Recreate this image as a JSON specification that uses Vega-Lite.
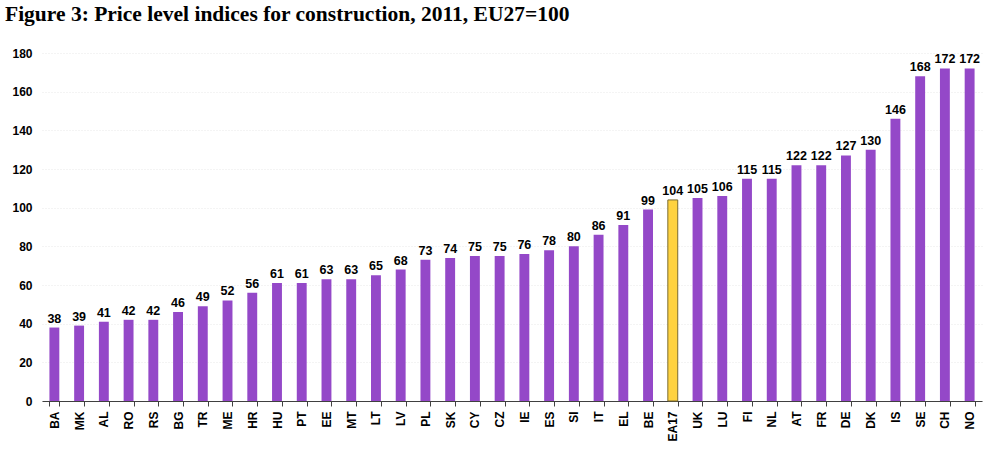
{
  "$schema": "https://vega.github.io/schema/vega-lite/v6.json",
  "width": 940,
  "height": 348,
  "autosize": {"type": "none"},
  "padding": {"left": 42, "top": 53, "right": 3, "bottom": 48},
  "background": "white",
  "view": {"stroke": null},
  "title": {
    "text": "Figure 3: Price level indices for construction, 2011, EU27=100",
    "anchor": "start",
    "frame": "group",
    "dx": -37,
    "offset": 22,
    "font": "Liberation Serif",
    "fontSize": 21.5,
    "fontWeight": "bold",
    "color": "#000000"
  },
  "data": {
    "values": [
      {"country": "BA", "value": 38},
      {"country": "MK", "value": 39},
      {"country": "AL", "value": 41},
      {"country": "RO", "value": 42},
      {"country": "RS", "value": 42},
      {"country": "BG", "value": 46},
      {"country": "TR", "value": 49},
      {"country": "ME", "value": 52},
      {"country": "HR", "value": 56},
      {"country": "HU", "value": 61},
      {"country": "PT", "value": 61},
      {"country": "EE", "value": 63},
      {"country": "MT", "value": 63},
      {"country": "LT", "value": 65},
      {"country": "LV", "value": 68},
      {"country": "PL", "value": 73},
      {"country": "SK", "value": 74},
      {"country": "CY", "value": 75},
      {"country": "CZ", "value": 75},
      {"country": "IE", "value": 76},
      {"country": "ES", "value": 78},
      {"country": "SI", "value": 80},
      {"country": "IT", "value": 86},
      {"country": "EL", "value": 91},
      {"country": "BE", "value": 99},
      {"country": "EA17", "value": 104},
      {"country": "UK", "value": 105},
      {"country": "LU", "value": 106},
      {"country": "FI", "value": 115},
      {"country": "NL", "value": 115},
      {"country": "AT", "value": 122},
      {"country": "FR", "value": 122},
      {"country": "DE", "value": 127},
      {"country": "DK", "value": 130},
      {"country": "IS", "value": 146},
      {"country": "SE", "value": 168},
      {"country": "CH", "value": 172},
      {"country": "NO", "value": 172}
    ]
  },
  "encoding": {
    "x": {
      "field": "country",
      "type": "nominal",
      "sort": null,
      "scale": {"paddingInner": 0.6, "paddingOuter": 0.3},
      "axis": {
        "title": null,
        "labelAngle": -90,
        "labelFont": "Liberation Sans",
        "labelFontSize": 12,
        "labelFontWeight": "bold",
        "labelColor": "#000000",
        "labelPadding": 5,
        "domainColor": "#404040",
        "tickColor": "#404040",
        "tickBand": "extent",
        "tickSize": 5,
        "grid": false
      }
    },
    "y": {
      "field": "value",
      "type": "quantitative",
      "scale": {"domain": [0, 180]},
      "axis": {
        "title": null,
        "values": [0, 20, 40, 60, 80, 100, 120, 140, 160, 180],
        "domain": false,
        "ticks": false,
        "labelFont": "Liberation Sans",
        "labelFontSize": 12,
        "labelFontWeight": "bold",
        "labelColor": "#000000",
        "labelPadding": 10,
        "grid": true,
        "gridColor": "#dcdcdc",
        "gridDash": [1, 2],
        "gridWidth": 0.6
      }
    }
  },
  "layer": [
    {
      "mark": {"type": "bar", "strokeWidth": 1},
      "encoding": {
        "color": {
          "condition": {"test": "datum.country === 'EA17'", "value": "#FFD23F"},
          "value": "#9448C8"
        },
        "stroke": {
          "condition": {"test": "datum.country === 'EA17'", "value": "#7a6a30"},
          "value": null
        }
      }
    },
    {
      "mark": {
        "type": "text",
        "dy": -9,
        "font": "Liberation Sans",
        "fontSize": 12.5,
        "fontWeight": "bold",
        "color": "#000000"
      },
      "encoding": {"text": {"field": "value", "type": "quantitative"}}
    }
  ]
}
